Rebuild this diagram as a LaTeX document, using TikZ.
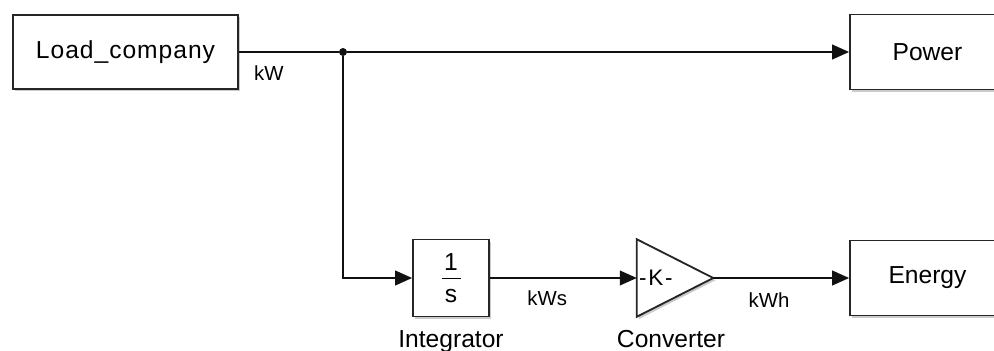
\documentclass[tikz,border=0pt]{standalone}
\usepackage{fontspec}
\setmainfont{Liberation Sans}
\usetikzlibrary{arrows.meta,positioning,shadows,backgrounds}
\definecolor{cborde}{HTML}{262626}
\definecolor{clinea}{HTML}{111111}
\definecolor{csombra}{HTML}{8C8C8C}
\tikzset{
  bloque/.style={draw=cborde,fill=white,line width=1.3pt,align=center,
                 font=\fontsize{17.5}{20}\selectfont,
                 drop shadow={shadow xshift=1.6pt,shadow yshift=-1.6pt,opacity=0.45,fill=csombra}},
  flecha/.style={-{Triangle[length=12pt,width=10.5pt]},draw=clinea,line width=1pt},
  canal/.style={draw=clinea,line width=1pt},
  et/.style={font=\fontsize{14.5}{16}\selectfont,inner sep=0pt},
  nombre/.style={font=\fontsize{17.5}{20}\selectfont,inner sep=0pt},
  punto/.style={circle,fill=clinea,inner sep=0pt,minimum size=0.2cm},
}

\begin{document}
\begin{tikzpicture}[x=1cm,y=1cm,
  caja/.style={bloque,minimum width=5.625cm,minimum height=1.85cm},
  salida/.style={bloque,minimum width=3.875cm,minimum height=1.875cm}]

\useasboundingbox (0,0) rectangle (24.85,-8.775);

% ---------------- fila de potencia ----------------
\node[caja,font=\fontsize{17.5}{20}\selectfont\addfontfeature{LetterSpace=4}]
      (load)  at (3.1375,-1.30)  {Load\_company};
\node[salida] (power) at (23.1875,-1.30) {Power};
\node[punto]  (nudo)  at (8.575,-1.30)   {};

\draw[canal] (load.east) -- node[et,pos=0.30,below=0.32cm]{kW} (nudo);
\draw[flecha] (nudo) -- (power.west);

% ---------------- fila de energia ----------------
\node[bloque,minimum width=1.9cm,minimum height=1.925cm] (integ) at (11.275,-6.95)
  {1\\[-13.6pt]\rule{0.475cm}{0.9pt}\\[-3.7pt]s};
\node[minimum height=1.925cm,text width=1.8cm,inner xsep=0.05cm,inner ysep=0pt,align=left,
      font=\fontsize{16}{18}\selectfont\addfontfeature{LetterSpace=8}] (conv) at (16.875,-6.95) {-K-};
\node[salida] (energy) at (23.1875,-6.95) {Energy};

\begin{scope}[on background layer]
  \fill[csombra,opacity=0.45,transform canvas={shift={(1.6pt,-1.6pt)}}]
    (conv.north west) -- (conv.east) -- (conv.south west) -- cycle;
  \fill[white] (conv.north west) -- (conv.east) -- (conv.south west) -- cycle;
\end{scope}
\draw[cborde,line width=1.3pt,line join=miter]
  (conv.north west) -- (conv.east) -- (conv.south west) -- cycle;

\node[nombre,below=0.32cm of integ] (tinteg) {Integrator};
\node[nombre,below=0.32cm of conv,xshift=-0.1cm] (tconv) {Converter};

\draw[flecha] (nudo) |- (integ.west);
\draw[flecha] (integ.east) -- node[et,pos=0.39,below=0.3cm]{kWs} (conv.west);
\draw[flecha] (conv.east) -- node[et,pos=0.41,below=0.36cm]{kWh} (energy.west);

\end{tikzpicture}
\end{document}
